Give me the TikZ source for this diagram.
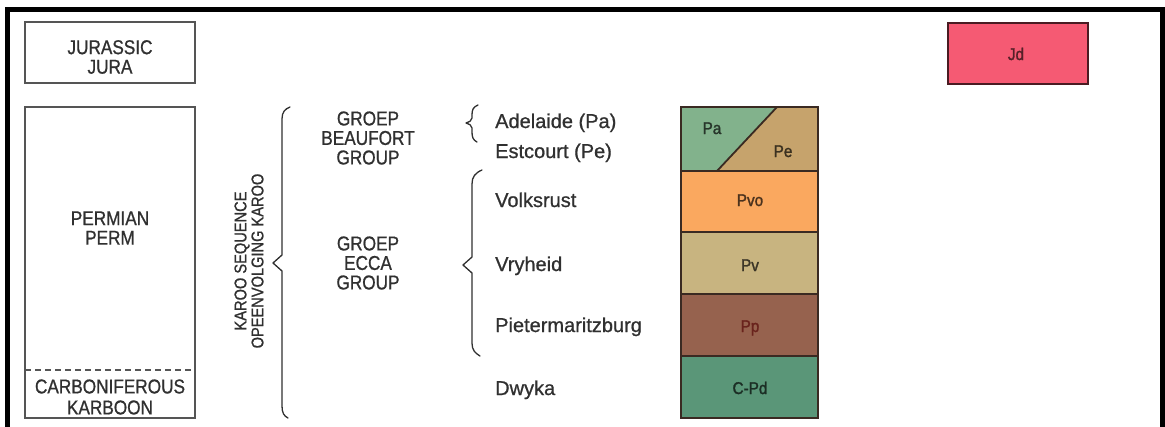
\documentclass[tikz,border=0pt]{standalone}
\usepackage{fontspec}
\setmainfont{Liberation Sans}[FakeBold=0.9]
\newfontfamily\condfont{Liberation Sans}[FakeStretch=0.86,FakeBold=0.9]
\newfontfamily\layfont{Liberation Sans}[FakeStretch=0.9,FakeBold=1.6]
\definecolor{txt}{HTML}{303030}
\definecolor{boxc}{HTML}{555555}
\definecolor{sepc}{HTML}{3A2A22}
\definecolor{paC}{HTML}{82B28C}
\definecolor{peC}{HTML}{C6A36C}
\definecolor{pvoC}{HTML}{FAA85F}
\definecolor{pvC}{HTML}{C8B480}
\definecolor{ppC}{HTML}{96624E}
\definecolor{cpdC}{HTML}{5A9678}
\definecolor{jdC}{HTML}{F55A73}
\begin{document}
\begin{tikzpicture}[x=1pt,y=-1pt,
  capt/.style={font=\condfont\fontsize{20}{19.5}\selectfont, text=txt, align=center, inner sep=0pt},
  lbl/.style={font=\fontsize{20}{20}\selectfont, text=txt, anchor=base west, inner sep=0pt},
  lay/.style={font=\layfont\fontsize{17}{17}\selectfont, anchor=base, inner sep=0pt},
  boxline/.style={draw=boxc, line width=1.6pt},
  bracepath/.style={draw=txt, line width=1.3pt, line join=round, line cap=round},
  sepline/.style={draw=sepc, line width=2.2pt}]
\useasboundingbox (0,0) rectangle (1165,426);
% frame
\draw[line width=5pt] (7.5,440) -- (7.5,9.5) -- (1162.5,9.5) -- (1162.5,440);
% left time boxes
\draw[boxline] (25,22) rectangle (195,83);
\node[capt] (jura) at (110,57) {JURASSIC\\JURA};
\draw[boxline] (25,107) rectangle (195,418);
\draw[boxline, dash pattern=on 6pt off 4pt] (25,370) -- (195,370);
\node[capt] (perm) at (110,228) {PERMIAN\\PERM};
\node[capt, font=\condfont\fontsize{20}{21}\selectfont] (carb) at (110,397) {CARBONIFEROUS\\KARBOON};
% Karoo brace and text
\node[capt, font=\condfont\fontsize{17}{17}\selectfont, rotate=90] (karoo) at (249,261) {KAROO SEQUENCE\\OPEENVOLGING KAROO};
\draw[bracepath] (290,107) .. controls (285,109) and (282,112) .. (282,119) -- (282,255) -- (273,263) -- (282,271) -- (282,406) .. controls (282,413) and (284,416) .. (288,418);
% group names
\node[capt] (beau) at (368,138) {GROEP\\BEAUFORT\\GROUP};
\node[capt] (ecca) at (368,263) {GROEP\\ECCA\\GROUP};
% small braces
\draw[bracepath] (478,105) .. controls (473,107) and (472,110) .. (472,115) -- (472,118) .. controls (472,121) and (469,122) .. (466,123) .. controls (469,124) and (472,125) .. (472,128) -- (472,132) .. controls (472,137) and (473,140) .. (477,142);
\draw[bracepath] (482,170) .. controls (475,173) and (472,177) .. (472,184) -- (472,257) -- (463,265) -- (472,273) -- (472,343) .. controls (472,350) and (475,353) .. (480,356);
% formation labels
\node[lbl] (adel) at (495,128) {Adelaide (Pa)};
\node[lbl] (estc) at (495,158) {Estcourt (Pe)};
\node[lbl] (volk) at (495,207) {Volksrust};
\node[lbl] (vryh) at (495,271) {Vryheid};
\node[lbl] (piet) at (495,332) {Pietermaritzburg};
\node[lbl] (dwyk) at (495,395) {Dwyka};
% column
\fill[paC] (681,107) -- (777,107) -- (717,171) -- (681,171) -- cycle;
\fill[peC] (777,107) -- (818,107) -- (818,171) -- (717,171) -- cycle;
\fill[pvoC] (681,171) rectangle (818,232);
\fill[pvC] (681,232) rectangle (818,294);
\fill[ppC] (681,294) rectangle (818,356);
\fill[cpdC] (681,356) rectangle (818,418);
\draw[sepline, line width=1.8pt] (777,107) -- (717,171);
\draw[sepline] (681,171) -- (818,171);
\draw[sepline] (681,232) -- (818,232);
\draw[sepline] (681,294) -- (818,294);
\draw[sepline] (681,356) -- (818,356);
\draw[draw=sepc, line width=1.6pt] (681,107) rectangle (818,418);
\node[lay, text=black!70!paC] (pa) at (712,134) {Pa};
\node[lay, text=black!70!peC] (pe) at (783,157) {Pe};
\node[lay, text=black!70!pvoC] (pvo) at (750,206) {Pvo};
\node[lay, text=black!70!pvC] (pv) at (750,271) {Pv};
\node[lay, text=black!55!ppC!80!red] (pp) at (750,332) {Pp};
\node[lay, text=black!70!cpdC] (cpd) at (750,394) {C-Pd};
% Jd
\draw[fill=jdC, draw=black!70!jdC, line width=1.6pt] (948,23) rectangle (1088,84);
\node[lay, text=black!65!jdC] (jd) at (1016,60) {Jd};
\end{tikzpicture}
\end{document}
